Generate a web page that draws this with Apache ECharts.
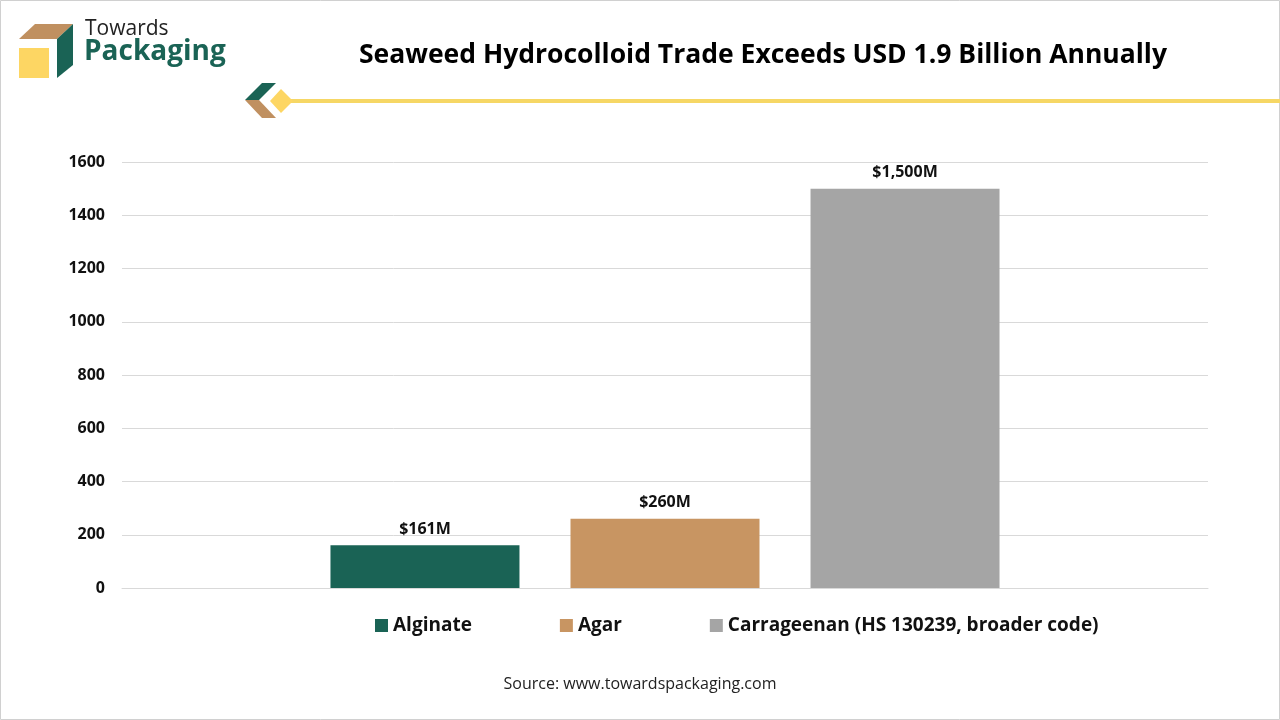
<!DOCTYPE html>
<html>
<head>
<meta charset="utf-8">
<script src="https://cdn.jsdelivr.net/npm/echarts@6/dist/echarts.min.js"></script>
<style>
  html, body { margin: 0; padding: 0; background: #fff; }
  #main { width: 1280px; height: 720px; }
</style>
</head>
<body>
<div id="main"></div>
<script>
// data
const seriesNames = ['Alginate', 'Agar', 'Carrageenan (HS 130239, broader code)'];
const seriesValues = [161, 260, 1500];
const valueLabels = ['$161M', '$260M', '$1,500M'];
const seriesColors = ['#1a6355', '#c89562', '#a5a5a5'];
const categories = [''];

const chart = echarts.init(document.getElementById('main'));

const series = seriesNames.map(function (name, i) {
  return {
    name: name,
    type: 'bar',
    data: [seriesValues[i]],
    barWidth: 189,
    barGap: '27%',
    itemStyle: { color: seriesColors[i] },
    label: {
      show: true,
      position: 'top',
      distance: 8,
      formatter: valueLabels[i],
      color: '#111',
      fontSize: 16,
      fontWeight: 'bold',
      fontFamily: 'Open Sans'
    }
  };
});

const option = {
  backgroundColor: '#fff',
  animation: false,
  title: {
    text: 'Seaweed Hydrocolloid Trade Exceeds USD 1.9 Billion Annually',
    left: 758,
    top: 37,
    textAlign: 'center',
    textStyle: { fontSize: 26.5, fontWeight: 'bold', color: '#000', fontFamily: 'Open Sans' }
  },
  legend: {
    bottom: 80,
    left: 370,
    itemWidth: 13,
    itemHeight: 13,
    itemGap: 88,
    icon: 'rect',
    textStyle: { fontSize: 19, fontWeight: 'bold', color: '#111', fontFamily: 'Open Sans' },
    data: seriesNames
  },
  grid: { left: 122, right: 72, top: 162, bottom: 132, containLabel: false },
  xAxis: {
    type: 'category',
    data: categories,
    axisLine: { show: true, lineStyle: { color: '#d9d9d9' } },
    axisTick: { show: false },
    axisLabel: { show: false }
  },
  yAxis: {
    type: 'value',
    min: 0,
    max: 1600,
    interval: 200,
    axisLine: { show: false },
    axisTick: { show: false },
    splitLine: { lineStyle: { color: '#d9d9d9' } },
    axisLabel: {
      color: '#111', fontSize: 16, fontWeight: 'bold', fontFamily: 'Open Sans', margin: 17,
      formatter: function (v) { return String(v); }
    }
  },
  series: series,
  graphic: [
    // frame
    { type: 'rect', shape: { x: 0.5, y: 0.5, width: 1279, height: 719 }, style: { fill: 'none', stroke: '#d0d0d0', lineWidth: 1 } },
    // logo box
    { type: 'polygon', shape: { points: [[19, 39], [35, 24], [73, 24], [57, 39]] }, style: { fill: '#c09060' } },
    { type: 'polygon', shape: { points: [[57, 39], [73, 24], [73, 65], [57, 78]] }, style: { fill: '#1a6355' } },
    { type: 'rect', shape: { x: 19, y: 48, width: 30, height: 30 }, style: { fill: '#fdd663' } },
    { type: 'text', left: 85, top: 19, style: { text: 'Towards', fontSize: 21, fill: '#222', fontFamily: 'Open Sans' } },
    { type: 'text', left: 84, top: 38, style: { text: 'Packaging', fontSize: 28, fontWeight: 'bold', fill: '#1a6355', fontFamily: 'Open Sans' } },
    // divider line with icon
    { type: 'rect', shape: { x: 285, y: 99, width: 995, height: 4 }, style: { fill: '#f6d765' } },
    { type: 'polygon', shape: { points: [[245, 100], [262, 83], [276, 83], [259, 100]] }, style: { fill: '#1a6355' } },
    { type: 'polygon', shape: { points: [[245, 100], [259, 100], [276, 118], [262, 118]] }, style: { fill: '#c09060' } },
    { type: 'polygon', shape: { points: [[270, 101], [281, 89], [293, 101], [281, 113]] }, style: { fill: '#fdd663' } },
    // source
    { type: 'text', left: 'center', top: 676, style: { text: 'Source: www.towardspackaging.com', fontSize: 16, fill: '#222', fontFamily: 'Open Sans' } }
  ]
};

chart.setOption(option);
</script>
</body>
</html>
